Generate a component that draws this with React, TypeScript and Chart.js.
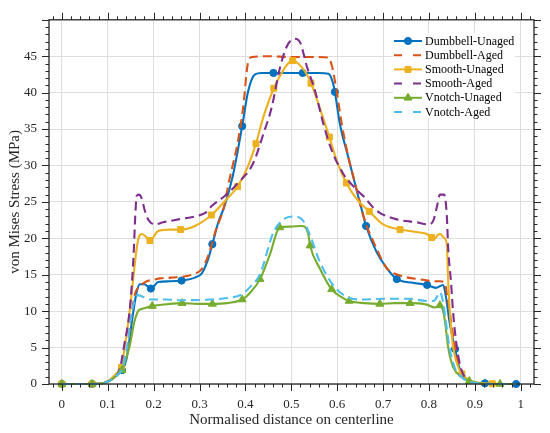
import { useEffect, useRef } from 'react'
import { Chart, registerables } from 'chart.js'
import { drawPoint } from 'chart.js/helpers'

Chart.register(...registerables);

// axis ticks
const xTicks = [0, 0.1, 0.2, 0.3, 0.4, 0.5, 0.6, 0.7, 0.8, 0.9, 1];
const yTicks = [0, 5, 10, 15, 20, 25, 30, 35, 40, 45];

const seriesNames = ['Dumbbell-Unaged', 'Dumbbell-Aged', 'Smooth-Unaged', 'Smooth-Aged', 'Vnotch-Unaged', 'Vnotch-Aged'];
const seriesColors = ['#0072BD', '#D95319', '#EDB120', '#7E2F8E', '#77AC30', '#4DBEEE'];

// [normalised distance, stress MPa]
const dumbbellUnaged = [
  [0, 0], [0.066, 0], [0.09, 0.1], [0.105, 0.5], [0.12, 1.2], [0.131, 1.9], [0.14, 3.2], [0.145, 5.0],
  [0.155, 9.6], [0.163, 12.6], [0.17, 13.7], [0.18, 13.7], [0.194, 13.1], [0.21, 14.0], [0.235, 14.1],
  [0.261, 14.2], [0.29, 14.6], [0.305, 15.2], [0.318, 17.0], [0.328, 19.2], [0.341, 22.2], [0.355, 24.5],
  [0.373, 28.7], [0.393, 35.4], [0.406, 40.2], [0.421, 42.5], [0.435, 42.7], [0.461, 42.7], [0.5, 42.7],
  [0.525, 42.7], [0.56, 42.7], [0.581, 42.6], [0.591, 41.3], [0.595, 40.1], [0.606, 35.7], [0.624, 31.2],
  [0.642, 26.7], [0.657, 23.1], [0.663, 21.7], [0.686, 18.1], [0.708, 15.9], [0.73, 14.4], [0.765, 13.9],
  [0.796, 13.6], [0.815, 13.2], [0.831, 13.6], [0.837, 12.0], [0.845, 8.5], [0.857, 4.8], [0.866, 2.3],
  [0.88, 0.7], [0.9, 0.2], [0.922, 0.1], [0.95, 0], [0.99, 0],
];
const dumbbellUnagedMarks = [0, 0.066, 0.131, 0.194, 0.261, 0.328, 0.393, 0.461, 0.525, 0.595, 0.663, 0.73, 0.796, 0.857, 0.922, 0.99];

const dumbbellAged = [
  [0, 0], [0.066, 0], [0.09, 0.1], [0.105, 0.5], [0.12, 1.3], [0.131, 2.0], [0.137, 3.5], [0.143, 5.0],
  [0.152, 9.6], [0.16, 12.5], [0.17, 13.4], [0.185, 14.1], [0.2, 14.3], [0.214, 14.5], [0.239, 14.6],
  [0.283, 15.0], [0.305, 15.8], [0.32, 17.8], [0.335, 21.0], [0.352, 24.0], [0.365, 28.0], [0.384, 33.4],
  [0.395, 37.9], [0.406, 44.2], [0.415, 44.9], [0.45, 45.0], [0.5, 44.9], [0.55, 44.9], [0.581, 44.8],
  [0.588, 43.8], [0.599, 40.2], [0.61, 35.7], [0.625, 31.0], [0.639, 27.6], [0.66, 22.5], [0.686, 18.6],
  [0.708, 15.9], [0.737, 14.9], [0.788, 14.3], [0.81, 14.1], [0.825, 14.1], [0.835, 13.8], [0.84, 12.0],
  [0.846, 9.6], [0.857, 5.0], [0.868, 2.0], [0.88, 0.7], [0.9, 0.2], [0.922, 0.05], [0.95, 0], [0.99, 0],
];

const smoothUnaged = [
  [0, 0], [0.066, 0], [0.09, 0.1], [0.105, 0.6], [0.12, 1.5], [0.13, 2.3], [0.137, 5.0], [0.147, 9.6],
  [0.155, 14.1], [0.163, 18.6], [0.168, 20.2], [0.174, 20.6], [0.182, 20.3], [0.192, 19.7], [0.21, 21.0],
  [0.235, 21.2], [0.259, 21.2], [0.29, 21.7], [0.326, 23.2], [0.355, 25.1], [0.383, 27.1], [0.405, 29.8],
  [0.423, 33.0], [0.439, 36.6], [0.462, 40.6], [0.479, 42.7], [0.493, 44.0], [0.503, 44.4], [0.515, 44.0],
  [0.53, 42.9], [0.543, 41.3], [0.562, 37.9], [0.583, 33.9], [0.6, 30.5], [0.62, 27.6], [0.645, 25.2],
  [0.67, 23.7], [0.7, 21.9], [0.737, 21.2], [0.78, 20.8], [0.795, 20.6], [0.806, 20.1], [0.812, 19.9],
  [0.82, 20.5], [0.825, 20.6], [0.832, 20.1], [0.839, 19.2], [0.842, 14.1], [0.846, 9.6], [0.853, 5.0],
  [0.864, 2.3], [0.872, 1.4], [0.886, 0.6], [0.905, 0.2], [0.938, 0.05], [0.96, 0], [0.99, 0],
];
const smoothUnagedMarks = [0, 0.066, 0.13, 0.192, 0.259, 0.326, 0.383, 0.423, 0.462, 0.503, 0.543, 0.583, 0.62, 0.67, 0.737, 0.806, 0.872, 0.938];

const smoothAged = [
  [0, 0], [0.066, 0], [0.09, 0.1], [0.105, 0.5], [0.118, 1.0], [0.128, 2.5], [0.135, 5.0], [0.147, 9.6],
  [0.153, 14.1], [0.157, 18.6], [0.16, 23.1], [0.163, 25.8], [0.168, 26.0], [0.174, 25.5], [0.18, 24.0],
  [0.188, 22.6], [0.203, 21.9], [0.221, 22.2], [0.254, 22.6], [0.297, 23.1], [0.315, 23.6], [0.326, 24.4],
  [0.355, 25.8], [0.384, 27.6], [0.417, 30.3], [0.439, 34.3], [0.457, 37.9], [0.475, 43.3], [0.49, 46.3],
  [0.508, 47.4], [0.52, 46.8], [0.533, 43.8], [0.552, 40.2], [0.57, 35.7], [0.588, 32.1], [0.613, 28.9],
  [0.642, 26.7], [0.657, 25.8], [0.679, 24.2], [0.693, 23.5], [0.73, 22.6], [0.773, 22.2], [0.8, 21.9],
  [0.81, 22.5], [0.818, 24.5], [0.824, 26.0], [0.833, 26.0], [0.839, 23.1], [0.842, 18.6], [0.848, 14.1],
  [0.853, 9.6], [0.861, 5.0], [0.871, 1.9], [0.886, 0.5], [0.905, 0.1], [0.93, 0], [0.99, 0],
];

const vnotchUnaged = [
  [0, 0], [0.066, 0], [0.09, 0.1], [0.105, 0.5], [0.12, 1.2], [0.131, 1.9], [0.14, 3.5], [0.147, 5.0],
  [0.158, 8.5], [0.166, 10.0], [0.174, 10.3], [0.185, 10.5], [0.197, 10.7], [0.235, 11.0], [0.262, 11.1],
  [0.295, 11.0], [0.328, 11.0], [0.36, 11.1], [0.393, 11.6], [0.41, 12.5], [0.432, 14.4], [0.453, 17.7],
  [0.475, 21.5], [0.497, 21.6], [0.523, 21.7], [0.537, 20.6], [0.541, 19.0], [0.562, 15.9], [0.588, 13.0],
  [0.613, 11.8], [0.626, 11.4], [0.66, 11.1], [0.693, 11.0], [0.725, 11.1], [0.759, 11.1], [0.795, 10.9],
  [0.813, 10.5], [0.824, 10.8], [0.83, 10.2], [0.835, 8.6], [0.842, 5.0], [0.853, 2.3], [0.871, 1.0],
  [0.888, 0.4], [0.91, 0.1], [0.955, 0], [0.99, 0],
];
const vnotchUnagedMarks = [0, 0.066, 0.131, 0.197, 0.262, 0.328, 0.393, 0.432, 0.475, 0.541, 0.588, 0.626, 0.693, 0.759, 0.824, 0.888, 0.955];

const vnotchAged = [
  [0, 0], [0.066, 0], [0.09, 0.1], [0.105, 0.5], [0.12, 1.2], [0.131, 2.0], [0.142, 5.0], [0.152, 9.6],
  [0.16, 11.8], [0.166, 12.2], [0.175, 12.0], [0.192, 11.6], [0.228, 11.6], [0.254, 11.5], [0.326, 11.6],
  [0.36, 11.8], [0.392, 12.3], [0.41, 13.3], [0.432, 15.1], [0.461, 20.8], [0.483, 22.6], [0.504, 23.0],
  [0.526, 22.4], [0.544, 19.9], [0.562, 16.8], [0.591, 13.6], [0.62, 12.0], [0.654, 11.6], [0.7, 11.7],
  [0.759, 11.7], [0.795, 11.4], [0.81, 11.4], [0.818, 12.0], [0.824, 12.6], [0.83, 11.5], [0.836, 9.0],
  [0.845, 5.0], [0.856, 2.3], [0.87, 1.0], [0.89, 0.3], [0.91, 0.1], [0.95, 0], [0.99, 0],
];

const seriesData = [dumbbellUnaged, dumbbellAged, smoothUnaged, smoothAged, vnotchUnaged, vnotchAged];
const seriesMarks = [dumbbellUnagedMarks, [], smoothUnagedMarks, [], vnotchUnagedMarks, []];
const seriesDashed = [false, true, false, true, false, true];
const seriesPointStyle = ['circle', 'circle', 'rect', 'circle', 'triangle', 'circle'];
const seriesPointRadius = [3.6, 0, 4.2, 0, 4.6, 0];

const FONT = '"Liberation Serif", "Times New Roman", serif';
const INK = '#262626';

// box + outward ticks on all four sides, MATLAB style
const framePlugin = {
  id: 'frame',
  afterDatasetsDraw(chart: any) {
    const { ctx, chartArea: a, scales } = chart;
    const xs = scales.x, ys = scales.y;
    ctx.save();
    ctx.strokeStyle = INK;
    ctx.lineWidth = 1;
    ctx.beginPath();
    for (let i = -1; i <= 51; i++) {
      const px = Math.round(xs.getPixelForValue(i * 0.02)) + 0.5;
      if (px < a.left - 0.5 || px > a.right + 0.5) continue;
      const len = i % 5 === 0 ? 7 : 3.5;
      ctx.moveTo(px, a.bottom); ctx.lineTo(px, a.bottom + len);
      ctx.moveTo(px, a.top); ctx.lineTo(px, a.top - len);
    }
    for (let i = 0; i <= 50; i++) {
      const py = Math.round(ys.getPixelForValue(i)) + 0.5;
      const len = i % 5 === 0 ? 7 : 3.5;
      ctx.moveTo(a.left, py); ctx.lineTo(a.left - len, py);
      ctx.moveTo(a.right, py); ctx.lineTo(a.right + len, py);
    }
    ctx.stroke();
    ctx.lineWidth = 1.3;
    ctx.strokeRect(a.left, a.top, a.right - a.left, a.bottom - a.top);
    ctx.restore();
  },
  afterDraw(chart: any) {
    const ctx = chart.ctx;
    ctx.save();
    ctx.fillStyle = '#fff';
    ctx.fillRect(393, 33, 122, 85);
    ctx.font = `12px ${FONT}`;
    ctx.textBaseline = 'middle';
    seriesNames.forEach((name, i) => {
      const cy = 41 + i * 14.2;
      ctx.strokeStyle = seriesColors[i];
      ctx.lineWidth = 2;
      ctx.beginPath();
      if (seriesDashed[i]) {
        ctx.moveTo(394, cy); ctx.lineTo(402, cy);
        ctx.moveTo(413, cy); ctx.lineTo(421, cy);
      } else {
        ctx.moveTo(394, cy); ctx.lineTo(422, cy);
      }
      ctx.stroke();
      if (seriesPointRadius[i] > 0) {
        ctx.fillStyle = seriesColors[i];
        ctx.lineWidth = 1;
        drawPoint(ctx, { pointStyle: seriesPointStyle[i], rotation: 0, radius: seriesPointRadius[i], borderWidth: 1 } as any, 408, cy);
      }
      ctx.fillStyle = '#000';
      ctx.fillText(name, 425, cy + 0.5);
    });
    ctx.restore();
  },
};

export default function App() {
  const canvasRef = useRef<HTMLCanvasElement>(null);

  useEffect(() => {
    if (!canvasRef.current) return;
    const chart = new Chart(canvasRef.current, {
      type: 'line',
      data: {
        datasets: seriesNames.map((name, i) => ({
          label: name,
          data: seriesData[i].map(([x, y]) => ({ x, y })),
          borderColor: seriesColors[i],
          backgroundColor: seriesColors[i],
          borderWidth: 2.1,
          borderDash: seriesDashed[i] ? [9, 5] : [],
          cubicInterpolationMode: 'monotone' as const,
          pointStyle: seriesPointStyle[i] as any,
          pointRadius: (c: any) => seriesMarks[i].some(m => Math.abs(m - c.raw.x) < 1e-6) ? seriesPointRadius[i] : 0,
          pointBackgroundColor: seriesColors[i],
          pointBorderColor: seriesColors[i],
          pointBorderWidth: 1,
          fill: false,
          clip: 8,
          order: 10 - i,
        })),
      },
      options: {
        animation: false,
        responsive: true,
        maintainAspectRatio: false,
        events: [],
        layout: { padding: { top: 15, right: 16, left: 0, bottom: 0 } },
        plugins: { legend: { display: false }, tooltip: { enabled: false } },
        scales: {
          x: {
            type: 'linear',
            min: -0.028,
            max: 1.029,
            afterBuildTicks: (s: any) => { s.ticks = xTicks.map(v => ({ value: v })); },
            afterFit: (s: any) => { s.height = 49; },
            ticks: {
              color: INK,
              font: { family: FONT, size: 13 },
              padding: 13,
              maxRotation: 0,
              callback: (v: any) => String(Number(Number(v).toFixed(1))),
            },
            grid: { color: '#dedede', lineWidth: 1, drawTicks: false },
            border: { display: false },
            title: {
              display: true,
              text: 'Normalised distance on centerline',
              color: INK,
              font: { family: FONT, size: 15 },
              padding: { top: 0, bottom: 4 },
            },
          },
          y: {
            type: 'linear',
            min: 0,
            max: 50,
            afterBuildTicks: (s: any) => { s.ticks = yTicks.map(v => ({ value: v })); },
            afterFit: (s: any) => { s.width = 49; },
            ticks: {
              color: INK,
              font: { family: FONT, size: 13 },
              padding: 12,
            },
            grid: { color: '#dedede', lineWidth: 1, drawTicks: false },
            border: { display: false },
            title: {
              display: true,
              text: 'von Mises Stress (MPa)',
              color: INK,
              font: { family: FONT, size: 15 },
              padding: { top: 6, bottom: 0 },
            },
          },
        },
      },
      plugins: [framePlugin],
    });
    return () => chart.destroy();
  }, []);

  return (
    <div style={{ position: 'fixed', left: 0, top: 0, width: 550, height: 433, background: '#fff' }}>
      <canvas ref={canvasRef} />
    </div>
  );
}
